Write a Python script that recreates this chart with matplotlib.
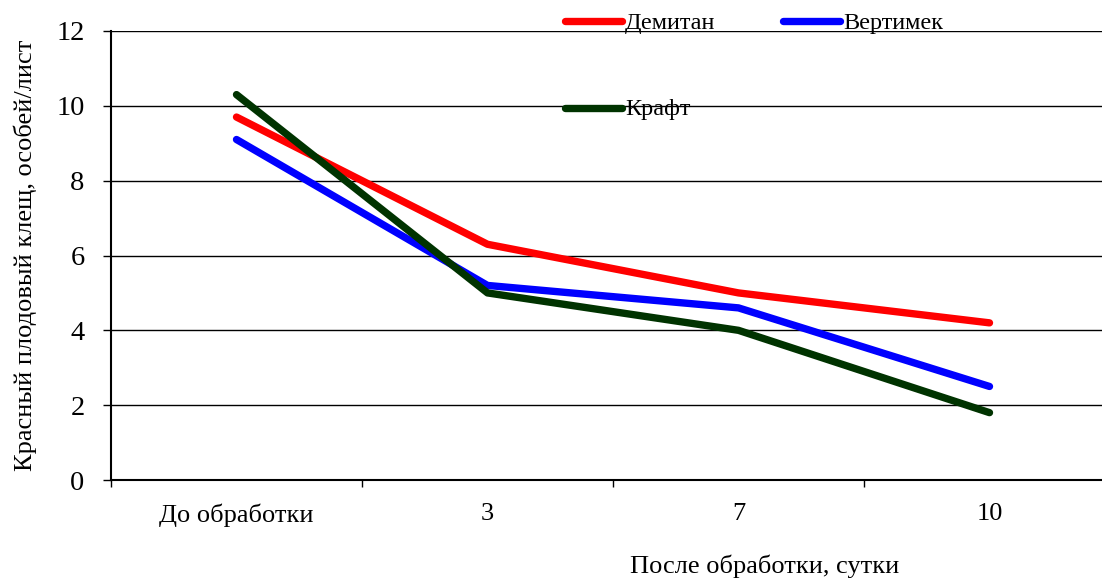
import matplotlib
matplotlib.use("Agg")
import matplotlib.pyplot as plt
from matplotlib.lines import Line2D

categories = ["До обработки", "3", "7", "10"]
demitan = [9.7, 6.3, 5.0, 4.2]
vertimek = [9.1, 5.2, 4.6, 2.5]
kraft = [10.3, 5.0, 4.0, 1.8]
yticks = [0, 2, 4, 6, 8, 10, 12]

plt.rcParams['font.family'] = ['Liberation Serif', 'DejaVu Serif']

fig = plt.figure(figsize=(11.02, 5.79), dpi=100)
ax = fig.add_axes([111/1102, 99/579, 1 - 111/1102, (480-31)/579])

x = list(range(len(categories)))
colors = {"Демитан": "#ff0000", "Вертимек": "#0000ff", "Крафт": "#003300"}
for name, vals in [("Демитан", demitan), ("Вертимек", vertimek), ("Крафт", kraft)]:
    ax.plot(x, vals, color=colors[name], lw=5.3, solid_capstyle='round',
            solid_joinstyle='round', zorder=3, clip_on=False)

ax.set_ylim(0, 12)
ax.set_xlim(-0.5, -0.5 + 991/251)
ax.set_yticks(yticks)
ax.set_yticklabels([str(v) for v in yticks], fontsize=20.5)
for v in yticks[1:]:
    ax.axhline(v, color='black', lw=1, zorder=1)

ax.set_xticks([-0.5, 0.5, 1.5, 2.5])
ax.set_xticklabels([])
ax.tick_params(axis='x', direction='out', length=5, width=1)
ax.tick_params(axis='y', direction='out', length=6, width=1, pad=13)
for xi, lab in zip(x, categories):
    ax.text(xi, -0.62, lab, ha='center', va='top', fontsize=19,
            transform=ax.transData)

for s in ['top', 'right']:
    ax.spines[s].set_visible(False)
ax.spines['left'].set_linewidth(1.5)
ax.spines['bottom'].set_linewidth(1.5)

fig.text(25/1102, 1 - 255/579, "Красный плодовый клещ, особей/лист", rotation=90,
         ha='center', va='center', fontsize=19)
fig.text(765/1102, 1 - 566/579, "После обработки, сутки", ha='center', va='center', fontsize=19)

# legend
def leg(xl, y, name):
    fy = 1 - y/579
    fig.add_artist(Line2D([xl/1102, (xl+57)/1102], [fy, fy], color=colors[name], lw=5.3,
                          solid_capstyle='round', transform=fig.transFigure))
    fig.text((xl+60)/1102, fy - 2/579, name, ha='left', va='center', fontsize=17.5)

leg(565, 21, "Демитан")
leg(783, 21, "Вертимек")
leg(565, 108, "Крафт")

fig.savefig("out.png", dpi=100)
